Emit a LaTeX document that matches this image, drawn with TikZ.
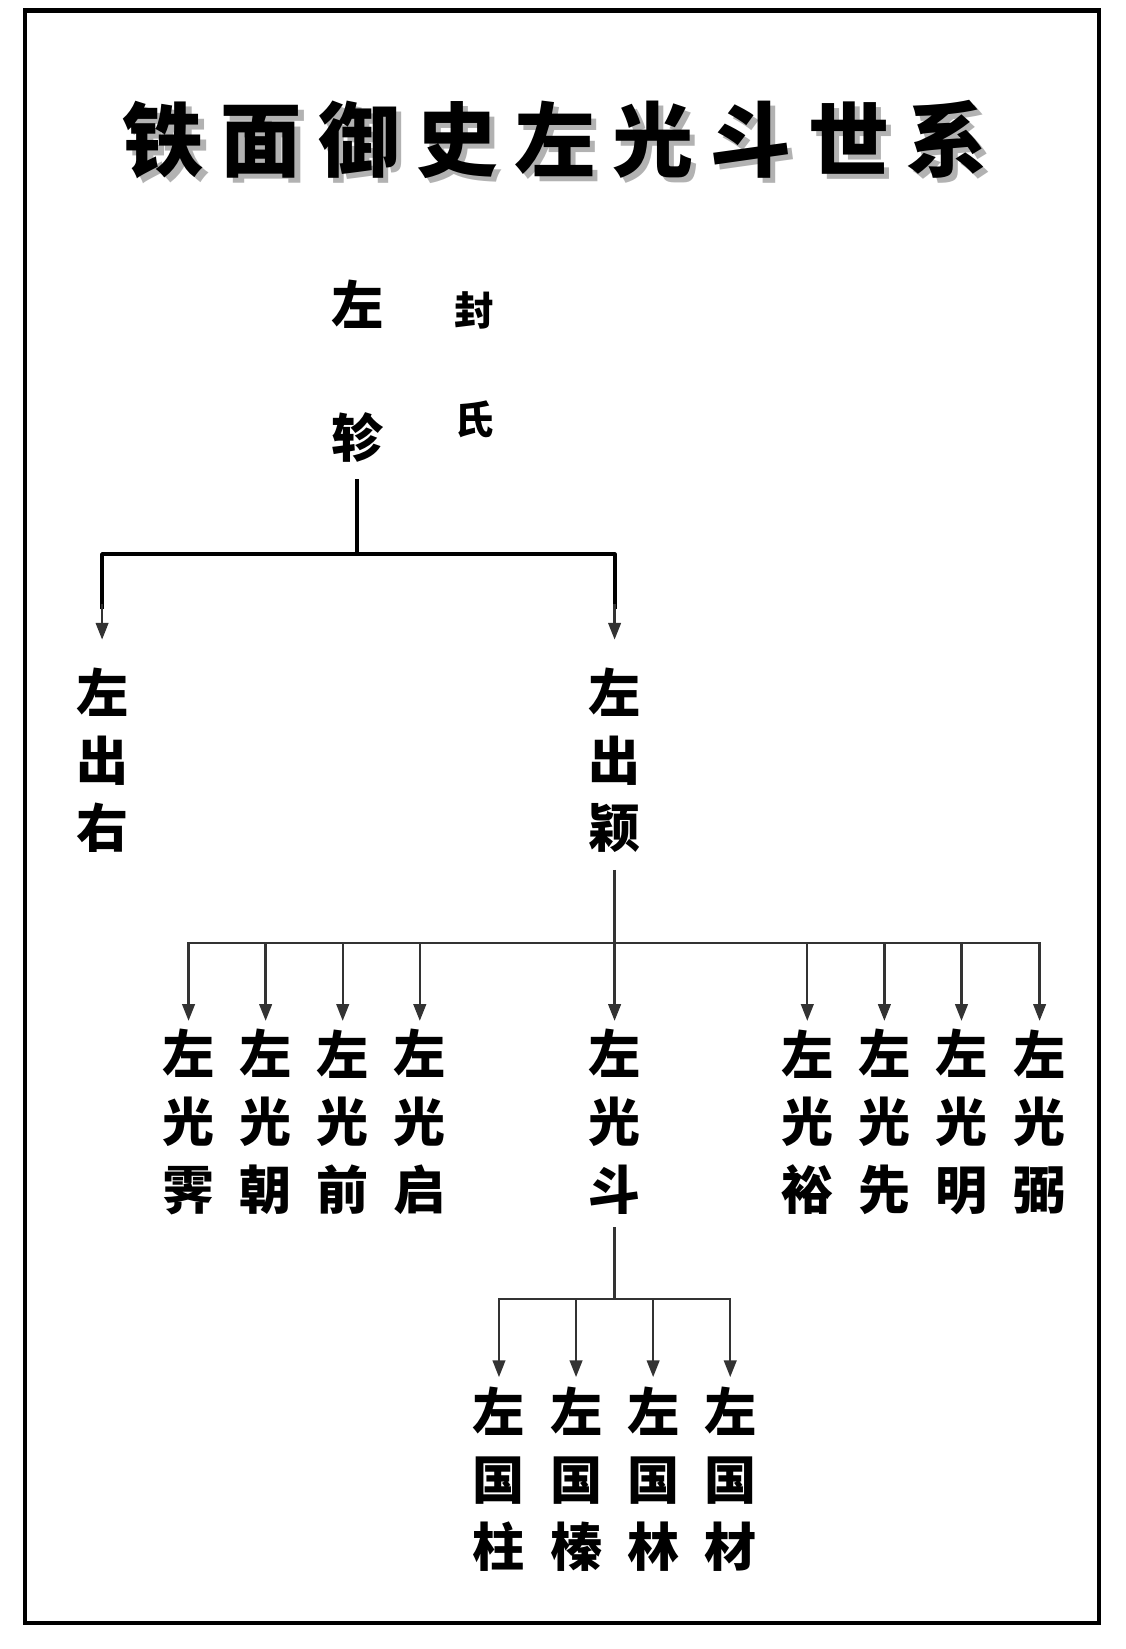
\documentclass[tikz,border=0pt]{standalone}
\usepackage{fontspec}
\setmainfont{Noto Sans CJK SC}
\newfontfamily\cjkb{Noto Sans CJK SC Black}
\usetikzlibrary{arrows.meta}
\begin{document}
\begin{tikzpicture}[x=1pt,y=-1pt,
  nm/.style={font=\fontsize{50}{50}\selectfont\bfseries,inner sep=0pt},
  sm/.style={font=\fontsize{38}{38}\selectfont\bfseries,inner sep=0pt},
  thick line/.style={line width=4pt},
  thin line/.style={line width=2.2pt,draw=black!80},
  arr/.style={-{Triangle[length=16pt,width=12pt]},line width=2.2pt,draw=black!80},
  ttl/.style={font=\cjkb\fontsize{78}{78}\selectfont,inner sep=0pt}]
\useasboundingbox (0,0) rectangle (1080,1583);
\draw[line width=4pt] (24,10) rectangle (1055,1558);
% title
\node[ttl,text=black!30] at (538,139) {铁\hspace{16pt}面\hspace{16pt}御\hspace{16pt}史\hspace{16pt}左\hspace{16pt}光\hspace{16pt}斗\hspace{16pt}世\hspace{16pt}系};
\node[ttl] (title) at (533,134) {铁\hspace{16pt}面\hspace{16pt}御\hspace{16pt}史\hspace{16pt}左\hspace{16pt}光\hspace{16pt}斗\hspace{16pt}世\hspace{16pt}系};
% root
\node[nm] (r1) at (343,292) {左};
\node[nm] (r2) at (343,420) {轸};
\node[sm] (f1) at (455,298) {封};
\node[sm] (f2) at (455,403) {氏};
\coordinate (rb) at (343,460);
\coordinate (rj) at (343,532);
\draw[thick line] (rb) -- (rj);
\coordinate (h1r) at (590,532);
\draw[thick line,line join=round] (98,585) |- (h1r) -- (590,585);
\draw[arr] (98,580) -- (98,614);
\draw[arr] (590,580) -- (590,614);
% gen 2
\node[nm,align=center] (a) at (98,730) {左\\[15pt]出\\[15pt]右};
\node[nm,align=center] (b) at (590,730) {左\\[15pt]出\\[15pt]颖};
\draw[thin line] (590,835) -- (590,905);
\draw[thin line] (181,960) |- (998,905) -- (998,960);
\foreach \x/\n in {181/霁,255/朝,329/前,403/启,590/斗,775/裕,849/先,923/明,998/弼}{
  \draw[arr] (\x,905) -- (\x,980);
  \node[nm,align=center] (c\n) at (\x,1077) {左\\[15pt]光\\[15pt]\n};
}
\draw[thin line] (590,1178) -- (590,1247);
\draw[thin line] (479,1300) |- (701,1247) -- (701,1300);
\foreach \x/\n in {479/柱,553/榛,627/林,701/材}{
  \draw[arr] (\x,1247) -- (\x,1322);
  \node[nm,align=center] (d\n) at (\x,1420) {左\\[15pt]国\\[15pt]\n};
}
\end{tikzpicture}
\end{document}
